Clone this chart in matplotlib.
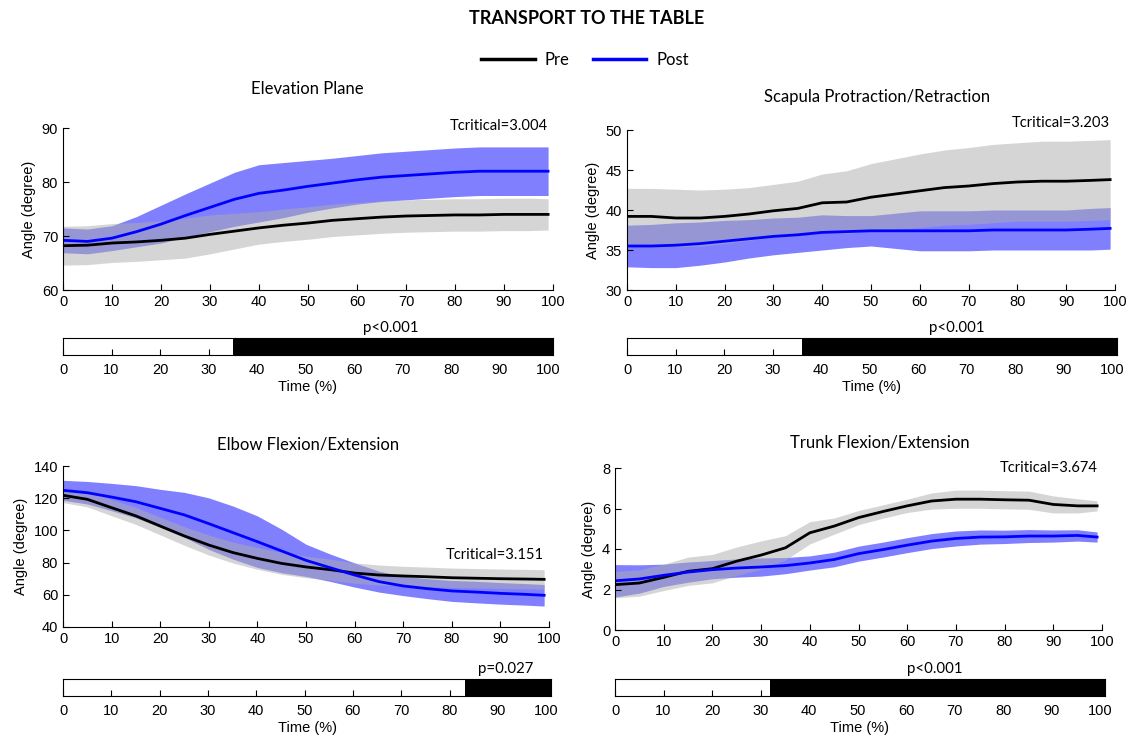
import matplotlib.pyplot as plt
import numpy as np

# time samples (% of movement)
t_pts = [0, 5, 10, 15, 20, 25, 30, 35, 40, 45, 50, 55, 60, 65, 70, 75, 80, 85, 90, 95, 99]

# Elevation plane
elev_pre_mean = [68.2, 68.3, 68.7, 68.9, 69.2, 69.6, 70.3, 70.9, 71.5, 72.0, 72.4, 72.9, 73.2, 73.5, 73.7, 73.8, 73.9, 73.9, 74.0, 74.0, 74.0]
elev_pre_sd = [3.6, 3.6, 3.6, 3.6, 3.6, 3.7, 3.6, 3.3, 3.0, 3.0, 3.0, 3.0, 3.0, 3.0, 3.0, 3.0, 3.0, 3.0, 3.0, 3.0, 2.9]
elev_post_mean = [69.2, 69.0, 69.6, 70.8, 72.2, 73.8, 75.3, 76.8, 77.9, 78.5, 79.2, 79.8, 80.4, 80.9, 81.2, 81.5, 81.8, 82.0, 82.0, 82.0, 82.0]
elev_post_sd = [2.3, 2.3, 2.3, 2.8, 3.5, 4.0, 4.5, 5.0, 5.3, 5.1, 4.8, 4.6, 4.5, 4.5, 4.5, 4.5, 4.5, 4.5, 4.5, 4.5, 4.5]

# Scapula protraction/retraction
scap_pre_mean = [39.2, 39.2, 39.0, 39.0, 39.2, 39.5, 39.9, 40.2, 40.9, 41.0, 41.6, 42.0, 42.4, 42.8, 43.0, 43.3, 43.5, 43.6, 43.6, 43.7, 43.8]
scap_pre_sd = [3.5, 3.5, 3.6, 3.5, 3.4, 3.3, 3.3, 3.4, 3.6, 3.9, 4.2, 4.4, 4.6, 4.7, 4.8, 4.9, 4.9, 5.0, 5.0, 5.0, 5.0]
scap_post_mean = [35.5, 35.5, 35.6, 35.8, 36.1, 36.4, 36.7, 36.9, 37.2, 37.3, 37.4, 37.4, 37.4, 37.4, 37.4, 37.5, 37.5, 37.5, 37.5, 37.6, 37.7]
scap_post_sd = [2.6, 2.7, 2.8, 2.7, 2.6, 2.4, 2.3, 2.2, 2.2, 2.0, 1.9, 2.2, 2.5, 2.5, 2.5, 2.5, 2.5, 2.5, 2.5, 2.6, 2.6]

# Elbow flexion/extension
elbow_pre_mean = [121.8, 119.3, 114.1, 109.0, 102.7, 96.5, 90.9, 86.2, 82.6, 79.5, 77.3, 75.6, 73.5, 72.3, 71.7, 71.2, 70.6, 70.3, 70.0, 69.8, 69.6]
elbow_pre_sd = [4.5, 4.7, 5.0, 5.3, 5.5, 5.8, 6.2, 6.5, 6.8, 6.8, 6.7, 6.5, 6.3, 6.2, 6.0, 6.0, 6.0, 6.0, 6.0, 6.0, 6.0]
elbow_post_mean = [124.9, 123.4, 120.7, 117.8, 113.7, 109.6, 104.2, 98.6, 93.0, 87.2, 81.4, 76.8, 72.3, 68.2, 65.5, 63.8, 62.4, 61.7, 60.9, 60.3, 59.7]
elbow_post_sd = [6.2, 7.0, 8.5, 10.0, 11.8, 14.0, 16.0, 16.5, 16.0, 13.5, 10.0, 8.5, 7.5, 6.5, 6.0, 6.2, 6.5, 6.7, 6.7, 6.7, 6.7]

# Trunk flexion/extension
trunk_pre_mean = [2.24, 2.32, 2.6, 2.9, 3.03, 3.4, 3.7, 4.06, 4.8, 5.13, 5.55, 5.85, 6.13, 6.37, 6.46, 6.46, 6.43, 6.41, 6.2, 6.13, 6.13]
trunk_pre_sd = [0.65, 0.65, 0.65, 0.7, 0.7, 0.7, 0.7, 0.6, 0.55, 0.4, 0.35, 0.33, 0.33, 0.4, 0.45, 0.45, 0.45, 0.45, 0.42, 0.35, 0.25]
trunk_post_mean = [2.43, 2.52, 2.7, 2.86, 2.98, 3.06, 3.11, 3.18, 3.31, 3.48, 3.77, 3.97, 4.19, 4.39, 4.52, 4.59, 4.6, 4.64, 4.64, 4.67, 4.59]
trunk_post_sd = [0.8, 0.7, 0.55, 0.5, 0.45, 0.45, 0.45, 0.4, 0.35, 0.36, 0.37, 0.37, 0.37, 0.37, 0.37, 0.35, 0.33, 0.32, 0.3, 0.28, 0.25]

# SPM results
titles = ['Elevation Plane', 'Scapula Protraction/Retraction', 'Elbow Flexion/Extension', 'Trunk Flexion/Extension']
tcrit = ['3.004', '3.203', '3.151', '3.674']
p_text = ['p<0.001', 'p<0.001', 'p=0.027', 'p<0.001']
sig_start = [35, 36, 83.2, 32]

W, H = 1133, 740
fig = plt.figure(figsize=(W / 100, H / 100), dpi=100)
tick_font = 'Liberation Sans'
head_font = 'Lato'


def px_axes(x0, x1, y0, y1):
    return fig.add_axes([x0 / W, 1 - y1 / H, (x1 - x0) / W, (y1 - y0) / H])


def draw_panel(box, bar_box, pre_m, pre_s, post_m, post_s, ylim, yticks, i, tc_y, title_xy):
    t = np.array(t_pts)
    pre_m, pre_s = np.array(pre_m), np.array(pre_s)
    post_m, post_s = np.array(post_m), np.array(post_s)
    ax = px_axes(*box)
    ax.fill_between(t, post_m - post_s, post_m + post_s, color='#8080ff', lw=0)
    ax.fill_between(t, pre_m - pre_s, pre_m + pre_s, color='#adadad', alpha=0.5, lw=0)
    ax.plot(t, pre_m, color='black', lw=2)
    ax.plot(t, post_m, color='blue', lw=2)
    ax.set_xlim(0, 100)
    ax.set_ylim(*ylim)
    ax.set_xticks(range(0, 101, 10))
    ax.set_yticks(yticks)
    for s in ['top', 'right']:
        ax.spines[s].set_visible(False)
    ax.tick_params(direction='in', length=4, labelsize=10.5)
    for lab in ax.get_xticklabels() + ax.get_yticklabels():
        lab.set_family(tick_font)
    ax.set_ylabel('Angle (degree)', fontsize=10.5, family=tick_font, labelpad=4)
    ax.text(99, tc_y, 'Tcritical=' + tcrit[i], ha='right', va='center', fontsize=10.6, family=head_font)
    fig.text(title_xy[0] / W, 1 - title_xy[1] / H, titles[i], ha='center', va='center',
             fontsize=12, family=head_font)

    # significance bar
    bx = px_axes(*bar_box)
    bx.axvspan(sig_start[i], 101, color='black', lw=0)
    bx.set_xlim(0, 101)
    bx.set_ylim(0, 1)
    bx.set_yticks([])
    bx.set_xticks(range(0, 101, 10))
    bx.tick_params(direction='in', length=4, labelsize=10.5, pad=6)
    for lab in bx.get_xticklabels():
        lab.set_family(tick_font)
    bx.set_xlabel('Time (%)', fontsize=10.5, family=tick_font, labelpad=2)
    bx.text((sig_start[i] + 100) / 2, 1.15, p_text[i], ha='center', va='bottom',
            fontsize=10.8, family=head_font)


draw_panel((63, 553, 128, 290), (63, 553, 338, 355), elev_pre_mean, elev_pre_sd,
           elev_post_mean, elev_post_sd, (60, 90), [60, 70, 80, 90], 0, 90.4, (307, 89))
draw_panel((627, 1115, 130, 290), (627, 1117, 338, 355), scap_pre_mean, scap_pre_sd,
           scap_post_mean, scap_post_sd, (30, 50), [30, 35, 40, 45, 50], 1, 50.9, (877, 97))
draw_panel((63, 549, 466, 627), (63, 551, 679, 696), elbow_pre_mean, elbow_pre_sd,
           elbow_post_mean, elbow_post_sd, (40, 140), [40, 60, 80, 100, 120, 140], 2, 85, (308, 445))
draw_panel((615, 1102, 468, 630), (615, 1105, 679, 696), trunk_pre_mean, trunk_pre_sd,
           trunk_post_mean, trunk_post_sd, (0, 8), [0, 2, 4, 6, 8], 3, 8.0, (880, 442))

fig.text(587 / W, 1 - 18 / H, 'TRANSPORT TO THE TABLE', ha='center', va='center',
         fontsize=13, fontweight='bold', family=head_font)

h1, = plt.plot([], [], color='black', lw=2.5, label='Pre')
h2, = plt.plot([], [], color='blue', lw=2.5, label='Post')
fig.legend(handles=[h1, h2], loc='center', bbox_to_anchor=(585 / W, 1 - 60 / H), ncol=2,
           frameon=False, prop={'family': head_font, 'size': 12}, handlelength=3.2,
           columnspacing=1.4, handletextpad=0.6)

fig.savefig('out.png', dpi=100)
